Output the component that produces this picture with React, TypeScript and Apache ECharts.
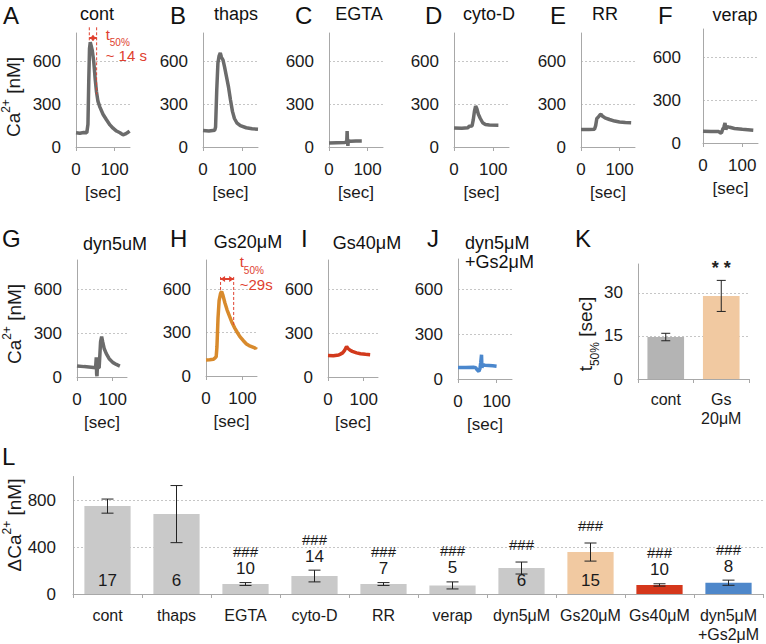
import { useEffect, useRef } from "react";
import * as echarts from "echarts";

// ---------- data ----------
const secTicks = [0, 100];
const caTicks = [0, 300, 600];

const traceCont = [[0, 100], [10, 97], [20, 102], [28, 100], [31, 160], [33, 450], [35, 690], [37, 735], [39, 715], [42, 680], [46, 600], [50, 470], [53, 390], [57, 320], [62, 280], [70, 230], [79, 191], [88, 155], [96, 132], [105, 112], [114, 100], [122, 85], [128, 92], [133, 100], [139, 112]];
const traceThaps = [[0, 115], [15, 112], [30, 118], [32, 140], [35, 400], [38, 590], [41, 640], [44, 660], [47, 630], [51, 610], [55, 560], [60, 490], [65, 420], [70, 330], [75, 250], [80, 200], [86, 170], [95, 150], [110, 135], [125, 128], [140, 125]];
const traceEGTA = [[0, 28], [20, 30], [40, 32], [46, 35], [47, 112], [48, 40], [49, 8], [50, 45], [56, 40], [70, 42], [85, 42]];
const traceCytoD = [[0, 134], [20, 132], [36, 135], [38, 146], [46, 148], [49, 190], [52, 250], [55, 287], [58, 270], [62, 230], [67, 200], [73, 170], [80, 158], [90, 154], [113, 153]];
const traceRR = [[0, 123], [20, 122], [35, 125], [38, 150], [41, 200], [45, 210], [49, 225], [52, 229], [56, 215], [62, 205], [74, 193], [87, 182], [100, 176], [115, 172], [130, 170]];
const traceVerap = [[0, 82], [20, 80], [40, 80], [44, 72], [47, 70], [50, 95], [53, 110], [56, 140], [58, 95], [62, 115], [68, 110], [80, 102], [100, 96], [128, 90]];
const traceDyn = [[0, 76], [20, 71], [40, 67], [52, 64], [54, 135], [55, 20], [56, 6], [57, 65], [62, 63], [64, 150], [66, 240], [69, 276], [72, 240], [76, 195], [82, 160], [90, 125], [100, 100], [110, 86], [120, 75]];
const traceGs20 = [[0, 111], [10, 112], [20, 115], [25, 125], [28, 134], [30, 200], [33, 400], [36, 520], [40, 570], [43, 583], [46, 560], [52, 503], [58, 455], [65, 410], [72, 365], [79, 330], [86, 300], [93, 272], [102, 245], [111, 221], [118, 210], [125, 203], [132, 196], [136, 190], [138, 200]];
const traceGs40 = [[0, 147], [15, 145], [30, 150], [36, 158], [41, 165], [46, 180], [52, 209], [56, 195], [62, 183], [68, 175], [80, 165], [91, 159], [105, 155], [118, 152]];
const traceDynGs = [[0, 77], [20, 76], [40, 78], [46, 75], [50, 60], [54, 51], [57, 70], [59, 110], [61, 162], [62, 75], [64, 95], [70, 92], [80, 90], [90, 88], [100, 85]];

const traceTitles = ["cont", "thaps", "EGTA", "cyto-D", "RR", "verap", "dyn5uM", "Gs20μM", "Gs40μM", "dyn5μM\n+Gs2μM"];

const catsK = ["cont", "Gs\n20μM"];
const meansK = [14.6, 28.9];
const errK = [1.3, 5.4];
const sigK = ["", "* *"];
const ticksK = [0, 15, 30];

const catsL = ["cont", "thaps", "EGTA", "cyto-D", "RR", "verap", "dyn5μM", "Gs20μM", "Gs40μM", "dyn5μM\n+Gs2μM"];
const meansL = [748, 680, 85, 153, 85, 73, 221, 357, 77, 96];
const errL = [60, 243, 12, 50, 12, 30, 51, 77, 10, 22];
const nL = [17, 6, 10, 14, 7, 5, 6, 15, 10, 8];
const sigL = ["", "", "###", "###", "###", "###", "###", "###", "###", "###"];
const ticksL = [0, 400, 800];

// ---------- styles / layout ----------
const FONT = '"Liberation Sans", Arial, sans-serif';
const TXT = "#1a1a1a";
const AX = "#a8a8a8";
const GRIDC = "#c6c6c6";
const GRAY = "#6b6b6b";
const ORANGE = "#d88a2c";
const REDT = "#d2391c";
const BLUET = "#4a87cd";
const RED = "#e0402f";
const BARGRAY = "#c9c9c9";
const KGRAY = "#b4b4b4";
const PEACH = "#f1c9a1";
const BARRED = "#d5371b";
const BARBLUE = "#4e87ca";

const traces = [traceCont, traceThaps, traceEGTA, traceCytoD, traceRR, traceVerap, traceDyn, traceGs20, traceGs40, traceDynGs];
const traceColors = [GRAY, GRAY, GRAY, GRAY, GRAY, GRAY, GRAY, ORANGE, REDT, BLUET];
const panels = [
  { x0: 76, y0: 147, top: 33, w: 54, m: 15 },
  { x0: 203, y0: 147, top: 33, w: 55, m: 15 },
  { x0: 329, y0: 147, top: 33, w: 54, m: 15 },
  { x0: 454, y0: 147, top: 33, w: 55, m: 15 },
  { x0: 581, y0: 147, top: 33, w: 54, m: 15 },
  { x0: 703, y0: 143, top: 29, w: 55, m: 22 },
  { x0: 77, y0: 377, top: 260, w: 50, m: 15 },
  { x0: 206, y0: 376, top: 260, w: 51, m: 15 },
  { x0: 328, y0: 377, top: 260, w: 50, m: 15 },
  { x0: 458, y0: 379, top: 259, w: 54, m: 15 },
];
const letters = [
  ["A", 3, 15], ["B", 170, 15], ["C", 295, 15], ["D", 425, 15], ["E", 550, 15], ["F", 658, 15],
  ["G", 2, 238], ["H", 170, 238], ["I", 301, 238], ["J", 427, 238], ["K", 575, 238], ["L", 2, 456],
];
const titlePos = [[97, 14], [236, 14], [359, 14], [489, 14], [605, 14], [735, 15], [115, 244], [248, 242], [367, 243], [465, 242]];

const lbl = (size = 17) => ({ fontSize: size, color: TXT, fontFamily: FONT });

export default function App() {
  const ref = useRef<HTMLDivElement>(null);
  useEffect(() => {
    if (!ref.current) return;
    const chart = echarts.init(ref.current, null, { renderer: "svg" });
    const grid: any[] = [];
    const xAxis: any[] = [];
    const yAxis: any[] = [];
    const series: any[] = [];
    const splitLine = { show: true, lineStyle: { color: GRIDC, type: [2, 2], width: 1 } };

    panels.forEach((p, i) => {
      grid.push({ left: p.x0, top: p.top, width: p.w, height: p.y0 - p.top, outerBoundsMode: "none", containLabel: false });
      xAxis.push({
        gridIndex: i, type: "value", min: 0, max: 140, interval: 100,
        axisLine: { show: true, onZero: false, lineStyle: { color: AX, width: 1 } },
        axisTick: { show: true, length: 4, customValues: secTicks, lineStyle: { color: AX } },
        axisLabel: { ...lbl(17), customValues: secTicks, margin: 14 },
        splitLine: { show: false },
        name: "[sec]", nameLocation: "middle", nameGap: 37, nameTextStyle: lbl(17),
      });
      yAxis.push({
        gridIndex: i, type: "value", min: 0, max: 800, interval: 100,
        axisLine: { show: true, lineStyle: { color: AX, width: 1 } },
        axisTick: { show: false, customValues: caTicks },
        axisLabel: { ...lbl(17), customValues: caTicks, margin: p.m },
        splitLine,
      });
      series.push({
        type: "line", xAxisIndex: i, yAxisIndex: i, data: traces[i], symbol: "none", showSymbol: false,
        lineStyle: { width: 3.5, color: traceColors[i] }, silent: true,
      });
    });

    // K
    grid.push({ left: 638, top: 264, width: 111, height: 115, outerBoundsMode: "none", containLabel: false });
    xAxis.push({
      gridIndex: 10, type: "category", data: catsK,
      axisLine: { show: true, lineStyle: { color: AX } },
      axisTick: { show: true, length: 4, lineStyle: { color: AX } },
      axisLabel: { ...lbl(16), lineHeight: 19, margin: 11 },
    });
    yAxis.push({
      gridIndex: 10, type: "value", min: 0, max: 40,
      axisLine: { show: true, lineStyle: { color: AX } },
      axisTick: { show: false, customValues: ticksK },
      axisLabel: { ...lbl(17), customValues: ticksK, margin: 15 },
      splitLine,
    });
    series.push({
      type: "bar", xAxisIndex: 10, yAxisIndex: 10, barCategoryGap: "34%",
      data: meansK.map((v, i) => ({ value: v, itemStyle: { color: i === 0 ? KGRAY : PEACH } })), silent: true,
    });
    series.push({
      type: "custom", xAxisIndex: 10, yAxisIndex: 10, z: 10, silent: true,
      data: meansK.map((m, i) => [i, m, errK[i]]),
      renderItem: (params: any, api: any) => {
        const i = params.dataIndex;
        const m = api.value(1), e = api.value(2);
        const t = api.coord([i, m + e]);
        const b = api.coord([i, m - e]);
        const x = t[0];
        const st = { stroke: "#222", lineWidth: 1 };
        const children: any[] = [
          { type: "line", shape: { x1: x, y1: t[1], x2: x, y2: b[1] }, style: st },
          { type: "line", shape: { x1: x - 4.5, y1: t[1], x2: x + 4.5, y2: t[1] }, style: st },
          { type: "line", shape: { x1: x - 4.5, y1: b[1], x2: x + 4.5, y2: b[1] }, style: st },
        ];
        if (sigK[i]) children.push({ type: "text", style: { text: sigK[i], x, y: t[1] - 12, align: "center", verticalAlign: "middle", font: `bold 18px ${FONT}`, fill: "#222" } });
        return { type: "group", children };
      },
    });

    // L
    grid.push({ left: 73, top: 476.5, width: 690, height: 117.5, outerBoundsMode: "none", containLabel: false });
    xAxis.push({
      gridIndex: 11, type: "category", data: catsL,
      axisLine: { show: true, lineStyle: { color: AX } },
      axisTick: { show: true, length: 4, lineStyle: { color: AX } },
      axisLabel: { ...lbl(16), lineHeight: 19, margin: 12, interval: 0 },
    });
    yAxis.push({
      gridIndex: 11, type: "value", min: 0, max: 1000,
      axisLine: { show: true, lineStyle: { color: AX } },
      axisTick: { show: false, customValues: ticksL },
      axisLabel: { ...lbl(17), customValues: ticksL, margin: 17 },
      splitLine,
    });
    const colL = (i: number) => (i === 7 ? PEACH : i === 8 ? BARRED : i === 9 ? BARBLUE : BARGRAY);
    series.push({
      type: "bar", xAxisIndex: 11, yAxisIndex: 11, barCategoryGap: "33%",
      data: meansL.map((v, i) => ({ value: v, itemStyle: { color: colL(i) } })), silent: true,
    });
    series.push({
      type: "custom", xAxisIndex: 11, yAxisIndex: 11, z: 10, silent: true,
      data: meansL.map((m, i) => [i, m, errL[i]]),
      renderItem: (params: any, api: any) => {
        const i = params.dataIndex;
        const m = api.value(1), e = api.value(2);
        const t = api.coord([i, m + e]);
        const b = api.coord([i, m - e]);
        const z0 = api.coord([i, 0]);
        const x = t[0];
        const st = { stroke: "#222", lineWidth: 1 };
        const inside = m > 200;
        const ny = inside ? z0[1] - 14 : t[1] - 14;
        const sy = inside ? t[1] - 18 : ny - 17;
        const children: any[] = [
          { type: "line", shape: { x1: x, y1: t[1], x2: x, y2: b[1] }, style: st },
          { type: "line", shape: { x1: x - 6, y1: t[1], x2: x + 6, y2: t[1] }, style: st },
          { type: "line", shape: { x1: x - 6, y1: b[1], x2: x + 6, y2: b[1] }, style: st },
          { type: "text", style: { text: String(nL[i]), x, y: ny, align: "center", verticalAlign: "middle", font: `17px ${FONT}`, fill: TXT } },
        ];
        if (sigL[i]) children.push({ type: "text", style: { text: sigL[i], x, y: sy, align: "center", verticalAlign: "middle", font: `15px ${FONT}`, fill: TXT } });
        return { type: "group", children };
      },
    });

    chart.setOption({ animation: false, backgroundColor: "#fff", grid, xAxis, yAxis, series });

    // ---------- graphic texts and annotations ----------
    const g: any[] = [];
    letters.forEach(([t, x, y]) => {
      g.push({ type: "text", x, y, z: 100, style: { text: t, font: `24px ${FONT}`, fill: "#111", align: "left", verticalAlign: "middle" } });
    });
    titlePos.forEach(([x, y], i) => {
      const twoLine = i === 9;
      g.push({
        type: "text", x, y: twoLine ? (y as number) - 9 : y, z: 100,
        style: { text: traceTitles[i], font: `18px ${FONT}`, lineHeight: 19, fill: "#111", align: twoLine ? "left" : "center", verticalAlign: twoLine ? "top" : "middle" },
      });
    });
    const supRich = {
      m: { fontSize: 19, fontFamily: FONT, lineHeight: 23, verticalAlign: "bottom" },
      sup: { fontSize: 12, fontFamily: FONT, lineHeight: 12, verticalAlign: "top" },
    };
    const subRich = (size: number, sub: number) => ({
      m: { fontSize: size, fontFamily: FONT, lineHeight: size + 6, verticalAlign: "top" },
      sub: { fontSize: sub, fontFamily: FONT, lineHeight: sub, verticalAlign: "bottom" },
    });
    const ca = "{m|Ca}{sup|2+}{m| [nM]}";
    g.push({ type: "text", x: 11, y: 97, rotation: Math.PI / 2, z: 100, style: { text: ca, rich: supRich, fill: TXT, align: "center", verticalAlign: "middle" } });
    g.push({ type: "text", x: 12, y: 324, rotation: Math.PI / 2, z: 100, style: { text: ca, rich: supRich, fill: TXT, align: "center", verticalAlign: "middle" } });
    g.push({ type: "text", x: 12, y: 525, rotation: Math.PI / 2, z: 100, style: { text: "{m|ΔCa}{sup|2+}{m| [nM]}", rich: supRich, fill: TXT, align: "center", verticalAlign: "middle" } });
    g.push({ type: "text", x: 588, y: 334, rotation: Math.PI / 2, z: 100, style: { text: "{m|t}{sub|50%}{m| [sec]}", rich: subRich(19, 12), fill: TXT, align: "center", verticalAlign: "middle" } });

    const px = (gi: number, t: number, v: number) => chart.convertToPixel({ gridIndex: gi } as any, [t, v]) as number[];
    const dash = { stroke: RED, lineWidth: 1, lineDash: [3, 2] };
    const annot = (gi: number, tl: number, tr: number, vTop: number, vPeak: number, vHalf: number, vArrow: number, label: string, dx: number, dy1: number, dy2: number) => {
      const a = px(gi, tl, vTop), b = px(gi, tl, vPeak), c = px(gi, tr, vTop), d = px(gi, tr, vHalf);
      const l = px(gi, tl, vArrow), r = px(gi, tr, vArrow);
      g.push({ type: "line", z: 90, shape: { x1: a[0], y1: a[1], x2: b[0], y2: b[1] }, style: dash });
      g.push({ type: "line", z: 90, shape: { x1: c[0], y1: c[1], x2: d[0], y2: d[1] }, style: dash });
      g.push({ type: "line", z: 90, shape: { x1: l[0], y1: l[1], x2: r[0], y2: r[1] }, style: { stroke: RED, lineWidth: 2 } });
      g.push({ type: "polygon", z: 90, shape: { points: [[l[0], l[1]], [l[0] + 4.5, l[1] - 3], [l[0] + 4.5, l[1] + 3]] }, style: { fill: RED } });
      g.push({ type: "polygon", z: 90, shape: { points: [[r[0], r[1]], [r[0] - 4.5, r[1] - 3], [r[0] - 4.5, r[1] + 3]] }, style: { fill: RED } });
      g.push({ type: "text", z: 100, x: c[0] + dx, y: c[1] + dy1, style: { text: "{m|t}{sub|50%}", rich: subRich(15, 10), fill: RED, align: "left", verticalAlign: "middle" } });
      g.push({ type: "text", z: 100, x: c[0] + dx, y: c[1] + dy2, style: { text: label, font: `15px ${FONT}`, fill: RED, align: "left", verticalAlign: "middle" } });
    };
    annot(0, 34.5, 53.5, 840, 735, 370, 765, "~ 14 s", 9, 10, 28);
    annot(7, 40, 76, 683, 583, 346, 669, "~29s", 6, -12, 8);

    chart.setOption({ graphic: { elements: g } });
    return () => chart.dispose();
  }, []);
  return <div ref={ref} style={{ position: "absolute", left: 0, top: 0, width: 766, height: 644, background: "#fff" }} />;
}
